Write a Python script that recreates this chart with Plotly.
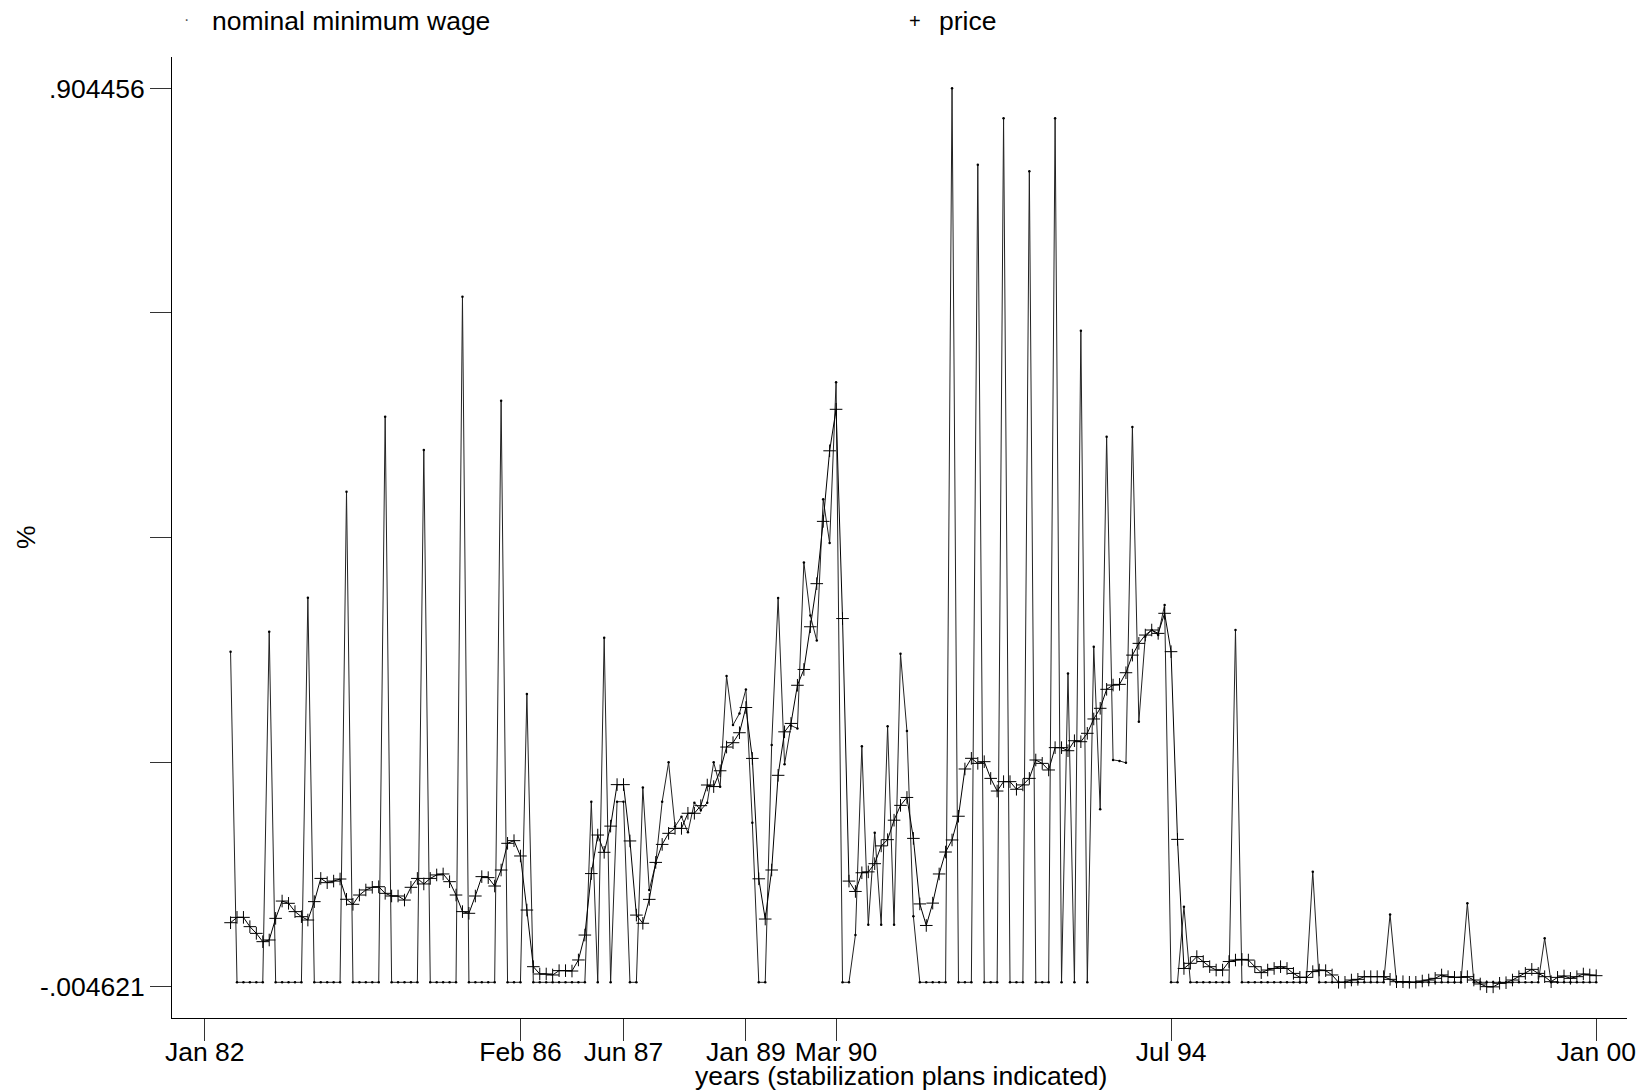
import plotly.graph_objects as go

# month index: 0 = Jan 1982 ... 216 = Jan 2000 ; data run May 1982 .. Jan 2000
month_index = list(range(4, 217))

# monthly rate of change, nominal minimum wage
wage = [
    # 1982 May-Dec
    0.3345, 0, 0, 0, 0, 0, 0.3547, 0,
    # 1983
    0, 0, 0, 0, 0.3891, 0, 0, 0, 0, 0, 0.4963, 0,
    # 1984
    0, 0, 0, 0, 0.5722, 0, 0, 0, 0, 0, 0.5385, 0,
    # 1985
    0, 0, 0, 0, 0.6936, 0, 0, 0, 0, 0, 0.5884, 0,
    # 1986
    0, 0, 0.2917, 0, 0, 0, 0, 0, 0, 0, 0, 0,
    # 1987
    0.1827, 0, 0.3486, 0, 0.1827, 0.1827, 0, 0, 0.197, 0.0934, 0.1203, 0.1827,
    # 1988
    0.2225, 0.1575, 0.1676, 0.1517, 0.1817, 0.1743, 0.1817, 0.2225, 0.1979, 0.3098, 0.2603, 0.272,
    # 1989
    0.2963, 0.1615, 0, 0, 0.24, 0.3887, 0.2207, 0.2598, 0.2568, 0.4247, 0.371, 0.3458,
    # 1990
    0.4886, 0.4445, 0.607, 0, 0, 0.0478, 0.2388, 0.0583, 0.1514, 0.0583, 0.2591, 0.0583,
    # 1991
    0.3324, 0.2543, 0.0667, 0, 0, 0, 0, 0, 0.904456, 0, 0, 0,
    # 1992
    0.8272, 0, 0, 0, 0.8741, 0, 0, 0, 0.8205, 0, 0, 0,
    # 1993
    0.8741, 0, 0.3125, 0, 0.6592, 0, 0.3395, 0.175, 0.552, 0.225, 0.224, 0.222,
    # 1994
    0.5618, 0.2636, 0.3497, 0.3564, 0.3513, 0.3817, 0, 0, 0.0765, 0, 0, 0,
    # 1995
    0, 0, 0, 0, 0.3564, 0, 0, 0, 0, 0, 0, 0,
    # 1996
    0, 0, 0, 0, 0.1118, 0, 0, 0, 0, 0, 0, 0,
    # 1997
    0, 0, 0, 0, 0.0687, 0, 0, 0, 0, 0, 0, 0,
    # 1998
    0, 0, 0, 0, 0.0799, 0, 0, 0, 0, 0, 0, 0,
    # 1999
    0, 0, 0, 0, 0.0445, 0, 0, 0, 0, 0, 0, 0,
    # 2000 Jan
    0,
]

# monthly rate of change, prices
price = [
    # 1982 May-Dec
    0.0603, 0.0657, 0.0657, 0.0563, 0.0495, 0.0411, 0.0428, 0.0647,
    # 1983
    0.0822, 0.0799, 0.0715, 0.0664, 0.0630, 0.0816, 0.1051, 0.1008, 0.1024, 0.1045, 0.0840, 0.0789,
    # 1984
    0.0883, 0.0934, 0.0961, 0.0967, 0.0900, 0.0873, 0.0873, 0.0832, 0.0961, 0.1051, 0.0995, 0.1051,
    # 1985
    0.1086, 0.1096, 0.1018, 0.0883, 0.0715, 0.0698, 0.0873, 0.1069, 0.1059, 0.0974, 0.1136, 0.1406,
    # 1986
    0.1433, 0.1278, 0.0731, 0.0158, 0.0084, 0.0084, 0.0074, 0.0118, 0.0118, 0.0114, 0.0226, 0.0478,
    # 1987
    0.1100, 0.1490, 0.1315, 0.1580, 0.2000, 0.2000, 0.1430, 0.0680, 0.0597, 0.0839, 0.1213, 0.1395,
    # 1988
    0.1507, 0.1557, 0.1557, 0.1710, 0.1710, 0.1787, 0.1996, 0.1980, 0.2140, 0.2380, 0.2424, 0.2525,
    # 1989
    0.2780, 0.2265, 0.1047, 0.0640, 0.1136, 0.2094, 0.2534, 0.2619, 0.3005, 0.3165, 0.3597, 0.4033,
    # 1990
    0.4663, 0.5377, 0.5797, 0.3680, 0.1024, 0.0919, 0.1108, 0.1117, 0.1200, 0.1380, 0.1443, 0.1640,
    # 1991
    0.1790, 0.1870, 0.1456, 0.0793, 0.0575, 0.0801, 0.1096, 0.1318, 0.1440, 0.1680, 0.2158, 0.2266,
    # 1992
    0.2215, 0.2232, 0.2063, 0.1935, 0.2030, 0.2030, 0.1953, 0.1997, 0.2063, 0.2249, 0.2215, 0.2148,
    # 1993
    0.2374, 0.2374, 0.2343, 0.2444, 0.2434, 0.2519, 0.2664, 0.2772, 0.2964, 0.3007, 0.3014, 0.3132,
    # 1994
    0.3310, 0.3429, 0.3513, 0.3564, 0.3530, 0.3733, 0.3345, 0.1446, 0.0140, 0.0192, 0.0260, 0.0210,
    # 1995
    0.0158, 0.0124, 0.0124, 0.0210, 0.0225, 0.0232, 0.0225, 0.0158, 0.0098, 0.0124, 0.0140, 0.0158,
    # 1996
    0.0140, 0.0090, 0.0050, 0.0050, 0.0108, 0.0124, 0.0118, 0.0074, 0.0000, 0.0000, 0.0023, 0.0030,
    # 1997
    0.0057, 0.0057, 0.0057, 0.0057, 0.0030, 0.0006, 0.0006, 0.0000, 0.0000, 0.0013, 0.0023, 0.0040,
    # 1998
    0.0074, 0.0057, 0.0050, 0.0050, 0.0057, 0.0023, -0.0017, -0.0044, -0.004621, -0.0010, -0.0004, 0.0023,
    # 1999
    0.0057, 0.0090, 0.0131, 0.0090, 0.0057, 0.0006, 0.0050, 0.0064, 0.0040, 0.0057, 0.0084, 0.0074,
    # 2000 Jan
    0.0067,
]

assert len(wage) == len(month_index) == len(price)

# x axis: stabilization plans
plan_months = [0, 49, 65, 84, 98, 150, 216]
plan_labels = ["Jan 82", "Feb 86", "Jun 87", "Jan 89", "Mar 90", "Jul 94", "Jan 00"]

# y axis ticks (only extremes labelled)
y_ticks = [-0.004621, 0.222648, 0.449917, 0.677187, 0.904456]
y_tick_labels = ["-.004621", "", "", "", ".904456"]

series_names = ["nominal minimum wage", "price"]
x_title = "years (stabilization plans indicated)"
y_title = "%"

# ---------------------------------------------------------------- layout
W, H = 1648, 1091
PL, PR, PT, PB = 172, 1636, 57, 1018
FONT = "Liberation Sans, Arial, Helvetica, sans-serif"
FS = 26.5


def px_x(p):
    return (p - PL) / (PR - PL)


def px_y(p):
    return (PB - p) / (PB - PT)


fig = go.Figure()
fig.add_trace(go.Scatter(
    x=month_index, y=wage, name=series_names[0], mode="lines+markers",
    line=dict(color="#222222", width=1),
    marker=dict(symbol="circle", size=2.5, color="black"),
    showlegend=False,
))
fig.add_trace(go.Scatter(
    x=month_index, y=price, name=series_names[1], mode="lines+markers",
    line=dict(color="black", width=1),
    marker=dict(symbol="cross-thin", size=9, line=dict(color="black", width=1)),
    showlegend=False,
))

annotations = [
    dict(text="·", x=px_x(187), y=px_y(20), xanchor="center", yanchor="middle",
         font=dict(size=16, color="#555555")),
    dict(text=series_names[0], x=px_x(210), y=px_y(21), xanchor="left", yanchor="middle",
         font=dict(size=FS)),
    dict(text="+", x=px_x(920), y=px_y(21), xanchor="center", yanchor="middle",
         font=dict(size=20)),
    dict(text=series_names[1], x=px_x(942), y=px_y(21), xanchor="left", yanchor="middle",
         font=dict(size=FS)),
    dict(text=x_title, x=px_x(906), y=px_y(1076), xanchor="center", yanchor="middle",
         font=dict(size=FS)),
    dict(text=y_title, x=px_x(25), y=px_y(537), xanchor="center", yanchor="middle",
         textangle=-90, font=dict(size=FS)),
]
for a in annotations:
    a.update(xref="paper", yref="paper", showarrow=False)

fig.update_layout(
    width=W, height=H,
    margin=dict(l=PL, r=W - PR, t=PT, b=H - PB, pad=0),
    paper_bgcolor="white", plot_bgcolor="white",
    font=dict(family=FONT, size=FS, color="black"),
    showlegend=False,
    annotations=annotations,
    xaxis=dict(
        range=[-5.091, 220.78], tickmode="array", tickvals=plan_months, ticktext=plan_labels,
        showgrid=False, zeroline=False, showline=True, linecolor="black", linewidth=1,
        ticks="outside", ticklen=22, tickwidth=1, tickcolor="#333333",
        tickfont=dict(size=FS), ticklabelstandoff=-12,
    ),
    yaxis=dict(
        range=[-0.03612, 0.93612], tickmode="array", tickvals=y_ticks, ticktext=y_tick_labels,
        showgrid=False, zeroline=False, showline=True, linecolor="black", linewidth=1,
        ticks="outside", ticklen=21, tickwidth=1, tickcolor="#333333",
        tickfont=dict(size=FS), ticklabelstandoff=0,
    ),
)

fig.write_html("out.html", config={"displayModeBar": False},
               post_script="document.body.style.margin='0';document.body.style.overflow='hidden';")
